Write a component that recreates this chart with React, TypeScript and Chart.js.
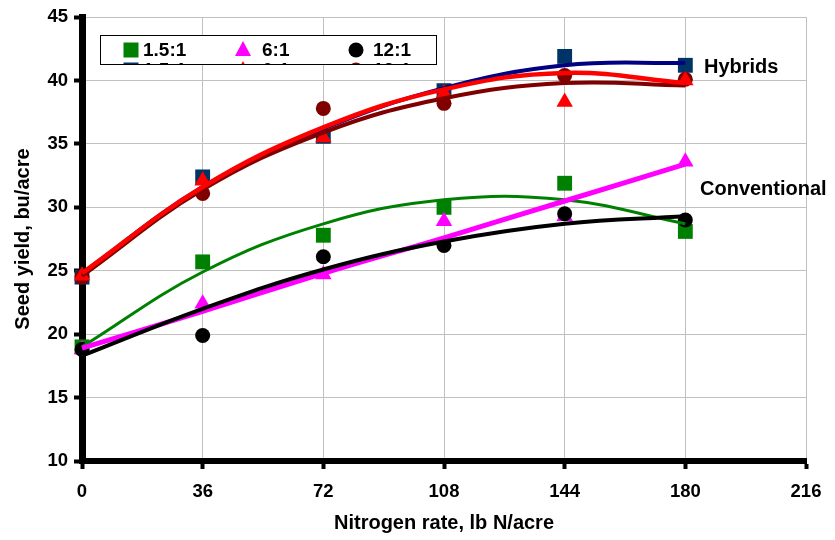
import React, { useEffect, useRef } from 'react';
import { Chart, registerables } from 'chart.js';

Chart.register(...registerables);

const nitrogenRates = [0, 36, 72, 108, 144, 180];
const xTicks = [0, 36, 72, 108, 144, 180, 216];
const yTicks = [10, 15, 20, 25, 30, 35, 40, 45];

// Observed yields
const hyb15 = [24.5, 32.4, 35.6, 39.2, 41.9, 41.2];
const hyb6 = [24.6, 32.1, 35.5, 39.0, 38.3, 40.0];
const hyb12 = [24.5, 31.1, 37.8, 38.2, 40.4, 40.1];
const conv15 = [19.0, 25.7, 27.8, 30.0, 31.9, 28.1];
const conv6 = [18.8, 22.4, 24.7, 28.9, 29.3, 33.6];
const conv12 = [18.8, 19.9, 26.1, 27.0, 29.5, 29.0];

// Trend lines
const hyb15Trend = [24.8, 31.6, 36.2, 39.4, 41.2, 41.4];
const hyb6Trend = [24.8, 31.6, 36.3, 39.3, 40.6, 39.8];
const hyb12Trend = [24.6, 31.4, 35.9, 38.6, 39.8, 39.6];
const conv15Trend = [19.0, 24.9, 28.7, 30.6, 30.6, 28.7];
const conv6Trend = [18.9, 21.8, 24.8, 27.6, 30.5, 33.4];
const conv12Trend = [18.3, 22.0, 25.1, 27.3, 28.7, 29.3];

const legendLabels = ['1.5:1', '6:1', '12:1'];
const groupLabels = ['Hybrids', 'Conventional'];

const FONT = 'Arial, "Liberation Sans", Helvetica, sans-serif';

const pts = (ys: number[]) => nitrogenRates.map((x, i) => ({ x, y: ys[i] }));

function pointSet(label: string, ys: number[], color: string, style: string, radius: number, order: number) {
  return {
    label,
    data: pts(ys),
    showLine: false,
    pointStyle: style,
    pointRadius: radius,
    pointBackgroundColor: color,
    pointBorderColor: color,
    pointBorderWidth: 0,
    clip: false,
    order,
  };
}

function trendSet(label: string, ys: number[], color: string, width: number, order: number) {
  return {
    label,
    data: pts(ys),
    showLine: true,
    pointRadius: 0,
    borderColor: color,
    borderWidth: width,
    tension: 0.4,
    fill: false,
    clip: false,
    order,
  };
}

function drawMarker(ctx: CanvasRenderingContext2D, style: string, x: number, y: number, color: string) {
  ctx.fillStyle = color;
  ctx.beginPath();
  if (style === 'rect') {
    ctx.rect(x - 7.5, y - 7.5, 15, 15);
  } else if (style === 'triangle') {
    ctx.moveTo(x, y - 9);
    ctx.lineTo(x + 8, y + 6);
    ctx.lineTo(x - 8, y + 6);
    ctx.closePath();
  } else {
    ctx.arc(x, y, 7.5, 0, Math.PI * 2);
  }
  ctx.fill();
}

const overlayPlugin = {
  id: 'overlay',
  afterDraw(chart: any) {
    const ctx: CanvasRenderingContext2D = chart.ctx;
    const bx = 100, by = 35, bw = 337, bh = 30;
    ctx.save();
    ctx.fillStyle = '#ffffff';
    ctx.fillRect(bx, by, bw, bh);
    ctx.beginPath();
    ctx.rect(bx + 1, by + 1, bw - 2, bh - 2);
    ctx.clip();
    const cols = [131, 243, 356];
    const textX = [143, 262, 373];
    const row1 = [
      { style: 'rect', color: '#008000' },
      { style: 'triangle', color: '#FF00FF' },
      { style: 'circle', color: '#000000' },
    ];
    const row2 = [
      { style: 'rect', color: '#003366' },
      { style: 'triangle', color: '#FF0000' },
      { style: 'circle', color: '#800000' },
    ];
    ctx.font = `bold 19px ${FONT}`;
    ctx.textBaseline = 'middle';
    ctx.textAlign = 'left';
    [row1, row2].forEach((row, r) => {
      const cy = 50 + r * 20;
      row.forEach((m, i) => {
        drawMarker(ctx, m.style, cols[i], cy, m.color);
        ctx.fillStyle = '#000';
        ctx.fillText(legendLabels[i], textX[i], cy + 1);
      });
    });
    ctx.restore();
    ctx.save();
    ctx.strokeStyle = '#000';
    ctx.lineWidth = 1;
    ctx.strokeRect(bx + 0.5, by + 0.5, bw - 1, bh - 1);
    ctx.font = `bold 20px ${FONT}`;
    ctx.fillStyle = '#000';
    ctx.textBaseline = 'middle';
    ctx.textAlign = 'left';
    ctx.fillText(groupLabels[0], 704, 67);
    ctx.fillText(groupLabels[1], 700, 189);
    ctx.restore();
  },
};

export default function App() {
  const ref = useRef<HTMLCanvasElement | null>(null);
  useEffect(() => {
    if (!ref.current) return;
    const chart = new Chart(ref.current, {
      type: 'scatter',
      data: {
        datasets: [
          trendSet('6:1 hyb trend', hyb6Trend, '#FF0000', 4.5, 0),
          trendSet('12:1 hyb trend', hyb12Trend, '#800000', 4, 1),
          trendSet('1.5:1 hyb trend', hyb15Trend, '#000080', 4, 2),
          trendSet('12:1 conv trend', conv12Trend, '#000000', 4, 1),
          trendSet('6:1 conv trend', conv6Trend, '#FF00FF', 5, 2),
          trendSet('1.5:1 conv trend', conv15Trend, '#008000', 3, 3),
          pointSet('6:1 hyb', hyb6, '#FF0000', 'triangle', 9.5, 10),
          pointSet('12:1 hyb', hyb12, '#800000', 'circle', 7.5, 11),
          pointSet('1.5:1 hyb', hyb15, '#003366', 'rect', 10.5, 12),
          pointSet('12:1 conv', conv12, '#000000', 'circle', 7.5, 10),
          pointSet('6:1 conv', conv6, '#FF00FF', 'triangle', 9.5, 11),
          pointSet('1.5:1 conv', conv15, '#008000', 'rect', 10.5, 12),
        ] as any,
      },
      options: {
        animation: false,
        responsive: false,
        maintainAspectRatio: false,
        layout: { padding: { left: 0, right: 29, top: 17, bottom: 0 } },
        plugins: { legend: { display: false }, tooltip: { enabled: false } },
        scales: {
          x: {
            type: 'linear',
            min: 0,
            max: 216,
            afterBuildTicks: (s: any) => {
              s.ticks = xTicks.map((v) => ({ value: v }));
            },
            afterFit: (s: any) => {
              s.height = 79;
            },
            grid: { color: '#c0c0c0', lineWidth: 1, tickColor: '#000', tickWidth: 4, tickLength: 8 },
            border: { color: '#000', width: 6 },
            ticks: { color: '#000', font: { family: FONT, size: 18.5, weight: 'bold' }, padding: 12, maxRotation: 0 },
            title: {
              display: true,
              text: 'Nitrogen rate, lb N/acre',
              color: '#000',
              font: { family: FONT, size: 20, weight: 'bold' },
              padding: { top: 0, bottom: 5 },
            },
          },
          y: {
            type: 'linear',
            min: 10,
            max: 45,
            afterBuildTicks: (s: any) => {
              s.ticks = yTicks.map((v) => ({ value: v }));
            },
            afterFit: (s: any) => {
              s.width = 82;
            },
            grid: { color: '#c0c0c0', lineWidth: 1, tickColor: '#000', tickWidth: 4, tickLength: 8 },
            border: { color: '#000', width: 7 },
            ticks: { color: '#000', font: { family: FONT, size: 18.5, weight: 'bold' }, padding: 6 },
            title: {
              display: true,
              text: 'Seed yield, bu/acre',
              color: '#000',
              font: { family: FONT, size: 20, weight: 'bold' },
              padding: { top: 11, bottom: 0 },
            },
          },
        },
      } as any,
      plugins: [overlayPlugin],
    });
    return () => chart.destroy();
  }, []);
  return (
    <div style={{ position: 'absolute', left: 0, top: 0, width: 835, height: 540, background: '#fff' }}>
      <canvas ref={ref} width={835} height={540} style={{ display: 'block', width: 835, height: 540 }} />
    </div>
  );
}
